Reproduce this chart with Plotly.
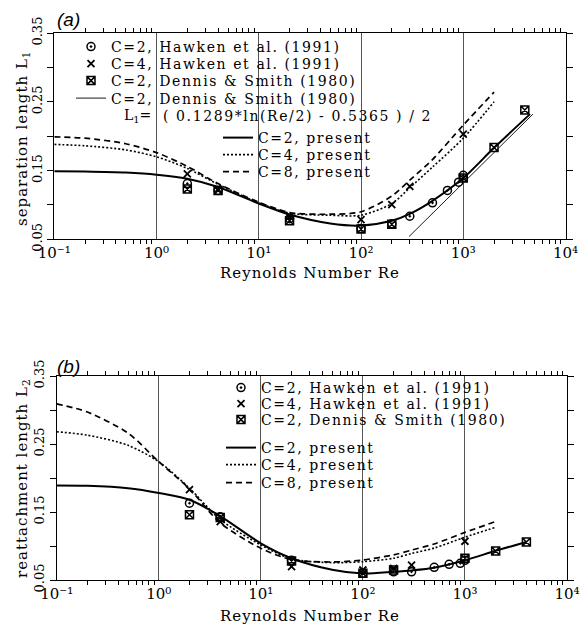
import plotly.graph_objects as go

W, H = 587, 629
def px(x): return x / W
def py(y): return 1 - y / H

# ---------------- data (a) separation length ----------------
re_curve = [0.1, 0.2, 0.5, 1, 2, 4, 10, 20, 50, 100, 200, 300, 500, 1000, 2000]
re_c2 = re_curve + [4500]
a_c2 = [0.149, 0.1485, 0.147, 0.144, 0.138, 0.126, 0.102, 0.086, 0.073, 0.070, 0.077, 0.087, 0.106, 0.139, 0.183, 0.232]
a_c4 = [0.188, 0.186, 0.180, 0.170, 0.153, 0.130, 0.103, 0.088, 0.085, 0.085, 0.102, 0.125, 0.155, 0.197, 0.250]
a_c8 = [0.199, 0.197, 0.189, 0.176, 0.156, 0.131, 0.104, 0.089, 0.0865, 0.090, 0.113, 0.136, 0.166, 0.216, 0.264]

re_h2 = [2, 4, 20, 100, 200, 300, 500, 700, 900, 1000]
a_h2 = [0.131, 0.121, 0.080, 0.0656, 0.0726, 0.0835, 0.103, 0.121, 0.133, 0.143]
re_h4 = [2, 4, 20, 100, 200, 300, 1000]
a_h4 = [0.145, 0.123, 0.083, 0.0787, 0.1005, 0.127, 0.203]
re_ds = [2, 4, 20, 100, 200, 1000, 2000, 4000]
a_ds = [0.123, 0.121, 0.077, 0.065, 0.072, 0.139, 0.1835, 0.238]
re_fit = [295, 4800]
a_fit = [0.054, 0.232]

# ---------------- data (b) reattachment length ----------------
re_c2b = re_curve + [4000]
b_c2 = [0.189, 0.1885, 0.185, 0.178, 0.168, 0.144, 0.104, 0.082, 0.065, 0.0595, 0.062, 0.064, 0.068, 0.079, 0.093, 0.106]
b_c4 = [0.268, 0.263, 0.248, 0.224, 0.185, 0.139, 0.1015, 0.081, 0.0755, 0.077, 0.082, 0.089, 0.097, 0.113, 0.1275]
b_c8 = [0.309, 0.297, 0.266, 0.224, 0.184, 0.134, 0.0966, 0.080, 0.0765, 0.0795, 0.087, 0.094, 0.103, 0.120, 0.136]

b_h2 = [0.163, 0.143, 0.079, 0.060, 0.062, 0.062, 0.0687, 0.073, 0.0745, 0.079]
b_h4 = [0.183, 0.136, 0.0696, 0.0647, 0.067, 0.072, 0.107]
b_ds = [0.146, 0.142, 0.078, 0.060, 0.0647, 0.082, 0.0926, 0.106]

x_tickvals = [0.1, 1, 10, 100, 1000, 10000]
x_ticktext = ["10⁻¹", "10⁰", "10¹", "10²", "10³", "10⁴"]
y_tickvals = [0.05, 0.10, 0.15, 0.20, 0.25, 0.30, 0.35]
y_ticktext = ["0.05", "", "0.15", "", "0.25", "", "0.35"]

SERIF = "DejaVu Serif"
def spaced(s, ls=1.6):
    return '<span style="letter-spacing:%.1fpx">%s</span>' % (ls, s)

lab_h2 = "C=2, Hawken et al. (1991)"
lab_h4 = "C=4, Hawken et al. (1991)"
lab_ds = "C=2, Dennis & Smith (1980)"

fig = go.Figure()
legends = {}
leg_count = [0]

def new_legend(text_x, row_y):
    leg_count[0] += 1
    key = "legend" if leg_count[0] == 1 else "legend%d" % leg_count[0]
    legends[key] = dict(x=px(text_x - 39), y=py(row_y), xanchor="left", yanchor="middle",
                        bgcolor="rgba(0,0,0,0)", borderwidth=0, itemwidth=30,
                        font=dict(family=SERIF, size=14, color="black"))
    return key

def markers(x, y, sym, name, xa, ya, leg, size=8, lw=1.5):
    fig.add_trace(go.Scatter(x=x, y=y, mode="markers", name=spaced(name), xaxis=xa, yaxis=ya, legend=leg,
                             marker=dict(symbol=sym, size=size, color="black", line=dict(color="black", width=lw))))

def curve(x, y, dash, width, name, xa, ya, leg, shape="spline"):
    fig.add_trace(go.Scatter(x=x, y=y, mode="lines", name=spaced(name), xaxis=xa, yaxis=ya, legend=leg,
                             line=dict(color="black", width=width, dash=dash, shape=shape, smoothing=0.8)))

# (a)
markers(re_h2, a_h2, "circle-open-dot", lab_h2, "x", "y", new_legend(110, 47))
markers(re_h4, a_h4, "x-thin-open", lab_h4, "x", "y", new_legend(110, 64), size=7, lw=1.8)
markers(re_ds, a_ds, "square-x-open", lab_ds, "x", "y", new_legend(110, 81))
curve(re_fit, a_fit, "solid", 0.9, lab_ds, "x", "y", new_legend(110, 98.5), shape="linear")
curve(re_c2, a_c2, "solid", 2.0, "C=2, present", "x", "y", new_legend(257, 138))
curve(re_curve, a_c4, "2px,2px", 1.6, "C=4, present", "x", "y", new_legend(257, 155))
curve(re_curve, a_c8, "6px,4px", 1.7, "C=8, present", "x", "y", new_legend(257, 172))

# (b)
markers(re_h2, b_h2, "circle-open-dot", lab_h2, "x2", "y2", new_legend(260, 388))
markers(re_h4, b_h4, "x-thin-open", lab_h4, "x2", "y2", new_legend(260, 404), size=7, lw=1.8)
markers(re_ds, b_ds, "square-x-open", lab_ds, "x2", "y2", new_legend(260, 420))
curve(re_c2b, b_c2, "solid", 2.0, "C=2, present", "x2", "y2", new_legend(260, 448))
curve(re_curve, b_c4, "2px,2px", 1.6, "C=4, present", "x2", "y2", new_legend(260, 465))
curve(re_curve, b_c8, "6px,4px", 1.7, "C=8, present", "x2", "y2", new_legend(260, 483))

minor_vals = [m * 10 ** e for e in range(-1, 4) for m in range(2, 10)]

def xaxis_cfg(dom, anchor):
    return dict(type="log", domain=dom, anchor=anchor, range=[-1, 4], automargin=False,
                tickmode="array", tickvals=x_tickvals, ticktext=x_ticktext,
                showgrid=True, gridcolor="#555", gridwidth=1,
                showline=True, linecolor="black", linewidth=1.2, mirror="ticks",
                ticks="outside", ticklen=0, tickcolor="black",
                minor=dict(tickmode="array", tickvals=minor_vals, ticks="outside", ticklen=4,
                           tickcolor="black", showgrid=False),
                tickfont=dict(family=SERIF, size=15, color="black"), zeroline=False)

def yaxis_cfg(dom, anchor):
    return dict(domain=dom, anchor=anchor, range=[0.05, 0.35], automargin=False,
                tickmode="array", tickvals=y_tickvals, ticktext=y_ticktext, tickangle=-90,
                showgrid=False, showline=True, linecolor="black", linewidth=1.2, mirror="ticks",
                ticks="outside", ticklen=6, tickcolor="black",
                tickfont=dict(family=SERIF, size=13, color="black"), zeroline=False)

fig.update_layout(
    template="none",
    width=W, height=H, margin=dict(l=0, r=0, t=0, b=0, autoexpand=False),
    paper_bgcolor="white", plot_bgcolor="white",
    xaxis=xaxis_cfg([54.3 / W, 565.5 / W], "y"),
    yaxis=yaxis_cfg([py(239.3), py(33)], "x"),
    xaxis2=xaxis_cfg([56.7 / W, 567 / W], "y2"),
    yaxis2=yaxis_cfg([py(580), py(376)], "x2"),
    showlegend=True,
    **legends,
)

ann = []
def text(x, y, s, size=14, xanchor="center", yanchor="middle", angle=0, family=SERIF):
    ann.append(dict(x=px(x), y=py(y), xref="paper", yref="paper", text=s, showarrow=False,
                    xanchor=xanchor, yanchor=yanchor, textangle=angle,
                    font=dict(family=family, size=size, color="black")))

text(55, 20, "<i>(a)</i>", size=19, xanchor="left", family="Liberation Sans")
text(55, 366, "<i>(b)</i>", size=19, xanchor="left", family="Liberation Sans")
text(310, 273, spaced("Reynolds Number Re", 1.0), size=15)
text(310, 616, spaced("Reynolds Number Re", 1.0), size=15)
text(22, 138, spaced("separation length L<sub>1</sub>", 1.0), size=15, angle=-90)
text(22, 478, spaced("reattachment length L<sub>2</sub>", 1.0), size=15, angle=-90)
text(153, 116, "L<sub>1</sub>=", size=14, xanchor="right")
text(161, 116, spaced("( 0.1289*ln(Re/2) - 0.5365 ) / 2", 1.6), size=14, xanchor="left")

fig.update_layout(annotations=ann)
fig.write_html("out.html")
